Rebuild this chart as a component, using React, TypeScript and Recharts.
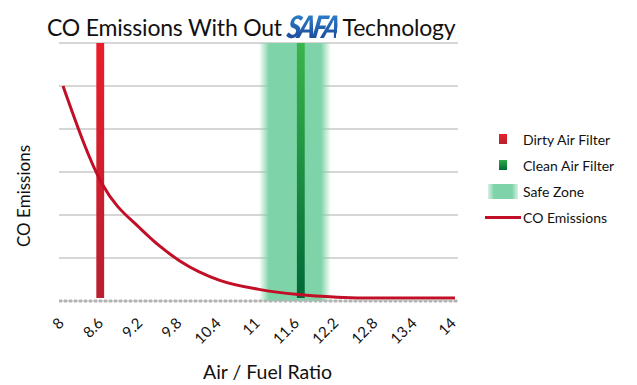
import { LineChart, Line, XAxis, YAxis, CartesianGrid, ReferenceArea } from 'recharts';

const ratios = [8, 8.6, 9.2, 9.8, 10.4, 11, 11.6, 12.2, 12.8, 13.4, 14];
const coEmissions = [5.0, 2.72, 1.66, 0.92, 0.48, 0.27, 0.15, 0.09, 0.07, 0.07, 0.07];
const yTicks = [1, 2, 3, 4, 5, 6];

const dirtyFilter = [8.51, 8.63];
const cleanFilter = [11.58, 11.7];
const safeZone = [11.0, 12.1];

const data = ratios.map((r, i) => ({ ratio: r, co: coEmissions[i] }));

const FONT = 'Lato, "Open Sans", sans-serif';

const AngledTick = (props: any) => {
  const { x, payload } = props;
  return (
    <g transform={`translate(${x + 2},324)`}>
      <text textAnchor="end" transform="rotate(-45)" fontSize={15} fill="#111" fontFamily={FONT}>
        {payload.value}
      </text>
    </g>
  );
};

const legendItems = [
  { label: 'Dirty Air Filter', kind: 'dirty' },
  { label: 'Clean Air Filter', kind: 'clean' },
  { label: 'Safe Zone', kind: 'safe' },
  { label: 'CO Emissions', kind: 'line' },
];

function Swatch({ kind }: { kind: string }) {
  if (kind === 'dirty')
    return <div style={{ width: 8, height: 10, marginLeft: 14, background: 'linear-gradient(#e8212c, #b8202f)' }} />;
  if (kind === 'clean')
    return <div style={{ width: 8, height: 10, marginLeft: 14, background: 'linear-gradient(#2eaa4a, #006b36)' }} />;
  if (kind === 'safe')
    return (
      <div
        style={{
          width: 30,
          height: 15,
          marginLeft: 3,
          background: 'linear-gradient(90deg, rgba(126,210,168,0.3), #7fd3a8 20%, #7fd3a8 80%, rgba(126,210,168,0.3))',
        }}
      />
    );
  return <div style={{ width: 36, height: 3, background: '#c20e26' }} />;
}

export default function App() {
  return (
    <div style={{ position: 'absolute', left: 0, top: 0, width: 637, height: 385, background: '#fff', fontFamily: FONT }}>
      <div style={{ position: 'absolute', left: 47, top: 9, fontSize: 23, color: '#111', whiteSpace: 'nowrap', letterSpacing: -0.2 }}>
        CO Emissions With Out{' '}
        <span
          style={{
            display: 'inline-block',
            fontWeight: 900,
            fontStyle: 'italic',
            transform: 'skewX(-10deg) scaleY(1.15)',
            letterSpacing: -3,
            background: 'linear-gradient(#2f8fd8, #1a3f8f)',
            WebkitBackgroundClip: 'text',
            backgroundClip: 'text',
            color: 'transparent',
            fontSize: 27,
          }}
        >
          SAFA
        </span>{' '}
        Technology
      </div>
      <LineChart width={637} height={385} data={data} margin={{ top: 43, right: 179, bottom: 0, left: 59 }}>
        <defs>
          <linearGradient id="dirtyGrad" x1="0" y1="0" x2="0" y2="1">
            <stop offset="0%" stopColor="#ec1c2a" />
            <stop offset="100%" stopColor="#b81f30" />
          </linearGradient>
          <linearGradient id="cleanGrad" x1="0" y1="0" x2="0" y2="1">
            <stop offset="0%" stopColor="#39b54a" />
            <stop offset="100%" stopColor="#006837" />
          </linearGradient>
          <linearGradient id="safeGrad" x1="0" y1="0" x2="1" y2="0">
            <stop offset="0%" stopColor="#7fd3a8" stopOpacity={0} />
            <stop offset="14%" stopColor="#7fd3a8" stopOpacity={1} />
            <stop offset="86%" stopColor="#7fd3a8" stopOpacity={1} />
            <stop offset="100%" stopColor="#7fd3a8" stopOpacity={0} />
          </linearGradient>
        </defs>
        <CartesianGrid vertical={false} stroke="#c8c8c8" strokeWidth={1.5} />
        <XAxis
          dataKey="ratio"
          type="number"
          domain={[8, 14]}
          ticks={ratios}
          padding={{ left: 4, right: 3 }}
          height={84}
          tickLine={false}
          axisLine={{ stroke: '#b4b4b4', strokeWidth: 3, strokeDasharray: '3 2' }}
          tick={<AngledTick />}
          interval={0}
        />
        <YAxis hide domain={[0, 6]} ticks={yTicks} />
        <ReferenceArea x1={safeZone[0]} x2={safeZone[1]} y1={0} y2={6} fill="url(#safeGrad)" fillOpacity={1} stroke="none" />
        <ReferenceArea x1={dirtyFilter[0]} x2={dirtyFilter[1]} y1={0.07} y2={6} fill="url(#dirtyGrad)" fillOpacity={1} stroke="none" />
        <ReferenceArea x1={cleanFilter[0]} x2={cleanFilter[1]} y1={0.07} y2={6} fill="url(#cleanGrad)" fillOpacity={1} stroke="none" />
        <Line type="monotone" dataKey="co" stroke="#c20e26" strokeWidth={3} dot={false} isAnimationActive={false} />
      </LineChart>
      <div
        style={{
          position: 'absolute',
          left: 23,
          top: 196,
          transform: 'translate(-50%, -50%) rotate(-90deg)',
          fontSize: 17,
          color: '#111',
          whiteSpace: 'nowrap',
        }}
      >
        CO Emissions
      </div>
      <div style={{ position: 'absolute', left: 203, top: 360, fontSize: 19.5, color: '#111', whiteSpace: 'nowrap' }}>
        Air / Fuel Ratio
      </div>
      <div style={{ position: 'absolute', left: 485, top: 126 }}>
        {legendItems.map((it) => (
          <div key={it.label} style={{ display: 'flex', alignItems: 'center', height: 26 }}>
            <div style={{ width: 38, display: 'flex', alignItems: 'center' }}>
              <Swatch kind={it.kind} />
            </div>
            <span style={{ fontSize: 14, color: '#111', whiteSpace: 'nowrap' }}>{it.label}</span>
          </div>
        ))}
      </div>
    </div>
  );
}
